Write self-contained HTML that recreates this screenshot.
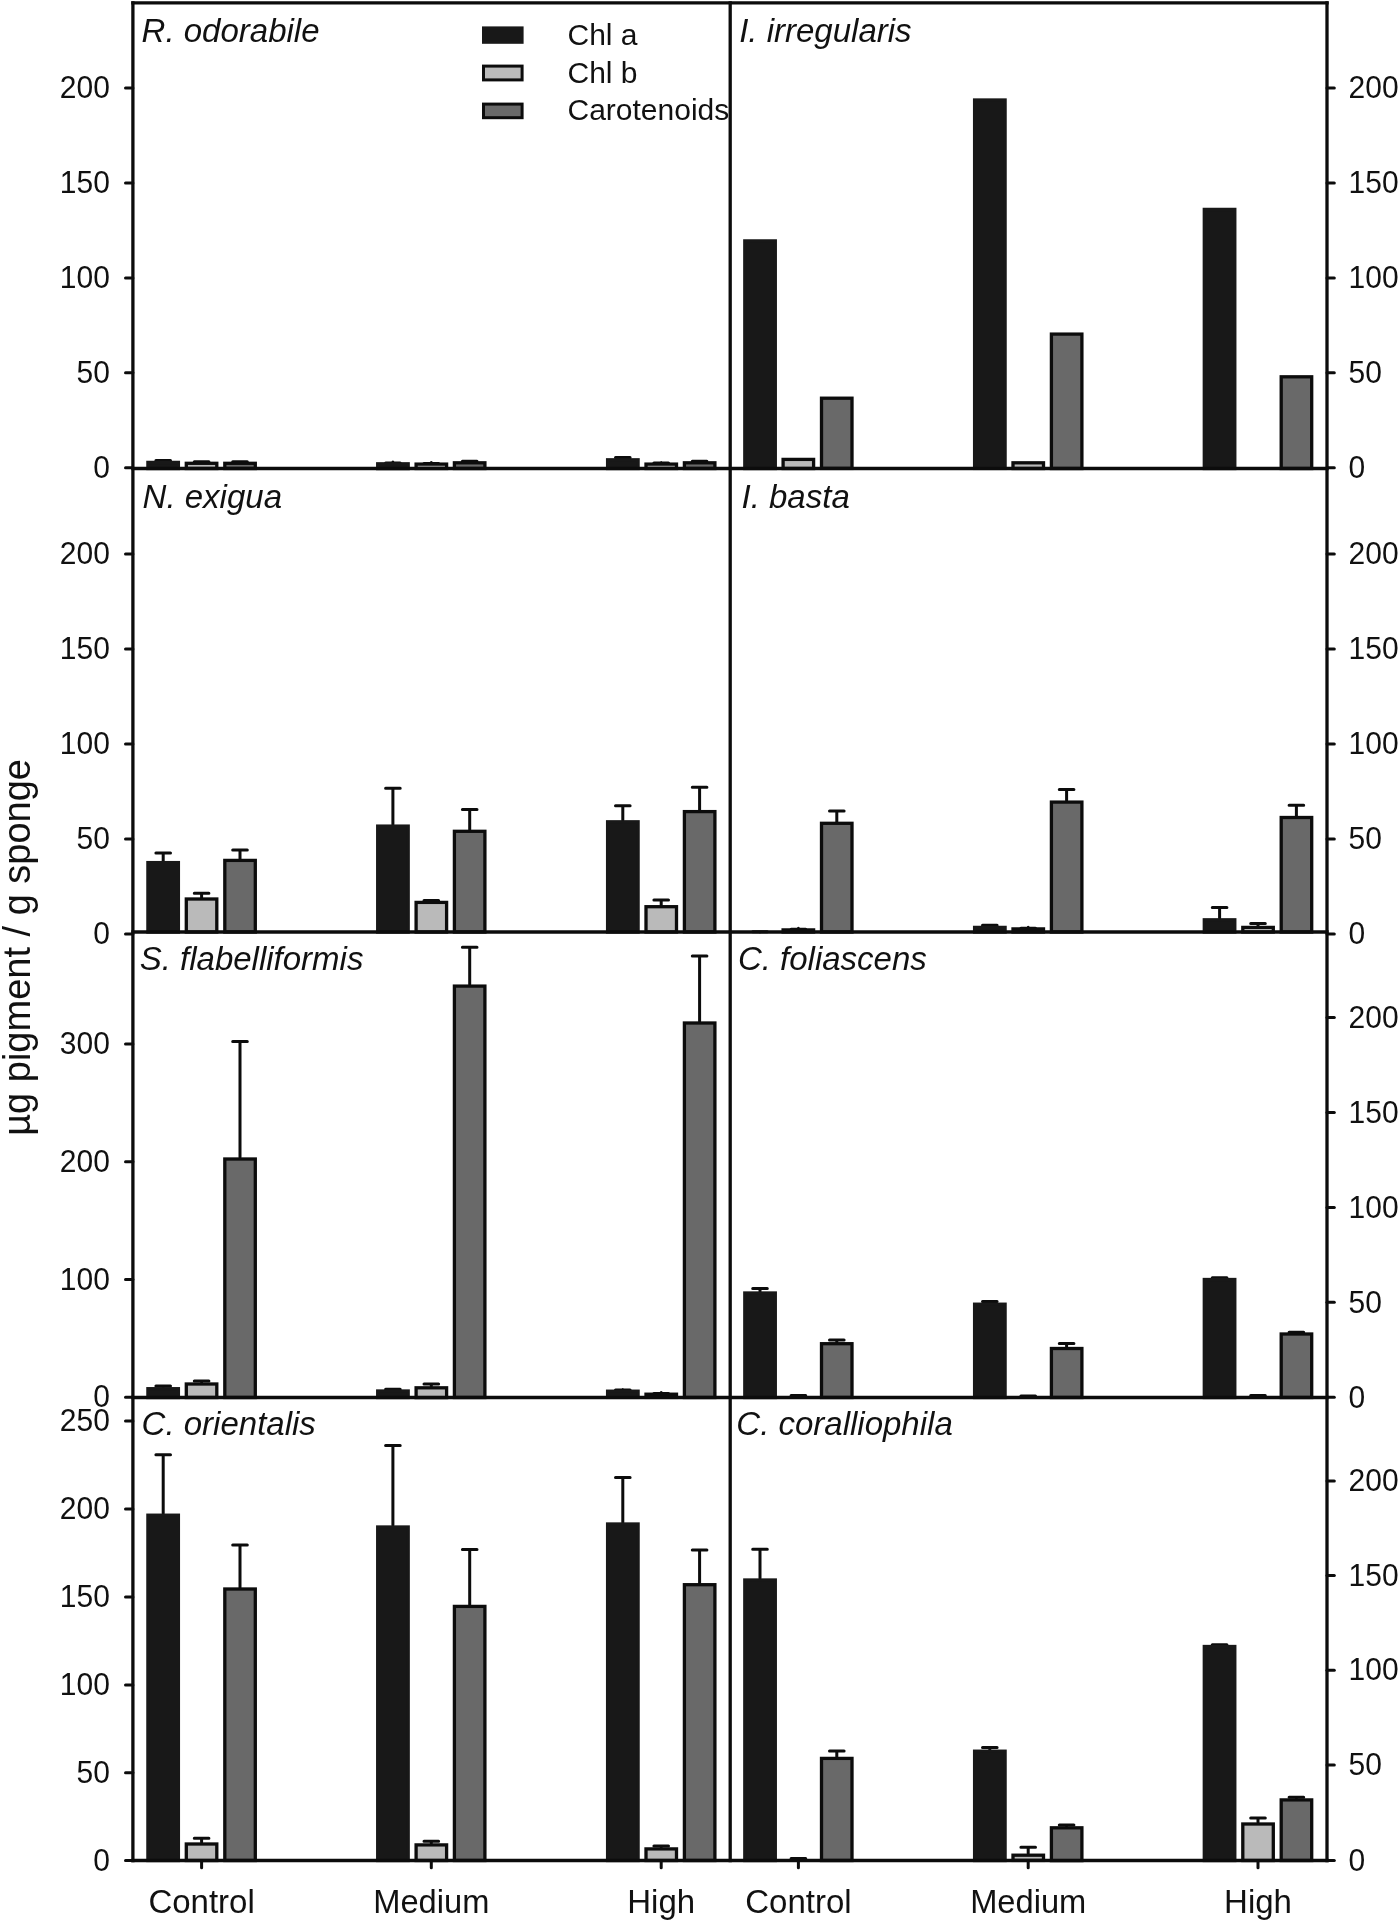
<!DOCTYPE html>
<html><head><meta charset="utf-8"><title>Pigment chart</title>
<style>
html,body{margin:0;padding:0;background:#fff;}
body{width:1400px;height:1922px;overflow:hidden;font-family:"Liberation Sans",sans-serif;}
svg{display:block;filter:grayscale(1);}
</style></head><body>
<svg width="1400" height="1922" viewBox="0 0 1400 1922">
<rect width="1400" height="1922" fill="#fff"/>
<path d="M163.2 460.8V460.5M155.9 460.5H170.5" stroke="#0c0c0c" stroke-width="3.0" stroke-linecap="round" fill="none"/>
<rect x="147.9" y="462.4" width="30.5" height="6.1" fill="#181818" stroke="#181818" stroke-width="3.3" stroke-linejoin="miter"/>
<path d="M201.6 461.7V461.8M194.3 461.8H208.9" stroke="#0c0c0c" stroke-width="3.0" stroke-linecap="round" fill="none"/>
<rect x="186.3" y="463.3" width="30.5" height="5.2" fill="#bababa" stroke="#0c0c0c" stroke-width="3.3" stroke-linejoin="miter"/>
<path d="M240.0 461.7V461.8M232.7 461.8H247.3" stroke="#0c0c0c" stroke-width="3.0" stroke-linecap="round" fill="none"/>
<rect x="224.8" y="463.3" width="30.5" height="5.2" fill="#696969" stroke="#0c0c0c" stroke-width="3.3" stroke-linejoin="miter"/>
<path d="M392.9 462.1V463.1M385.6 463.1H400.2" stroke="#0c0c0c" stroke-width="3.0" stroke-linecap="round" fill="none"/>
<rect x="377.7" y="463.8" width="30.5" height="4.8" fill="#181818" stroke="#181818" stroke-width="3.3" stroke-linejoin="miter"/>
<path d="M431.3 462.5V463.5M424.0 463.5H438.6" stroke="#0c0c0c" stroke-width="3.0" stroke-linecap="round" fill="none"/>
<rect x="416.1" y="464.1" width="30.5" height="4.4" fill="#bababa" stroke="#0c0c0c" stroke-width="3.3" stroke-linejoin="miter"/>
<path d="M469.7 461.2V461.3M462.4 461.3H477.0" stroke="#0c0c0c" stroke-width="3.0" stroke-linecap="round" fill="none"/>
<rect x="454.4" y="462.8" width="30.5" height="5.7" fill="#696969" stroke="#0c0c0c" stroke-width="3.3" stroke-linejoin="miter"/>
<path d="M622.8 458.2V457.5M615.5 457.5H630.1" stroke="#0c0c0c" stroke-width="3.0" stroke-linecap="round" fill="none"/>
<rect x="607.6" y="459.8" width="30.5" height="8.7" fill="#181818" stroke="#181818" stroke-width="3.3" stroke-linejoin="miter"/>
<path d="M661.2 462.5V463.1M653.9 463.1H668.5" stroke="#0c0c0c" stroke-width="3.0" stroke-linecap="round" fill="none"/>
<rect x="646.0" y="464.1" width="30.5" height="4.4" fill="#bababa" stroke="#0c0c0c" stroke-width="3.3" stroke-linejoin="miter"/>
<path d="M699.6 461.2V461.3M692.3 461.3H706.9" stroke="#0c0c0c" stroke-width="3.0" stroke-linecap="round" fill="none"/>
<rect x="684.4" y="462.8" width="30.5" height="5.7" fill="#696969" stroke="#0c0c0c" stroke-width="3.3" stroke-linejoin="miter"/>
<rect x="744.8" y="240.9" width="30.5" height="227.6" fill="#181818" stroke="#181818" stroke-width="3.3" stroke-linejoin="miter"/>
<rect x="783.1" y="459.4" width="30.5" height="9.1" fill="#bababa" stroke="#0c0c0c" stroke-width="3.3" stroke-linejoin="miter"/>
<rect x="821.5" y="398.2" width="30.5" height="70.2" fill="#696969" stroke="#0c0c0c" stroke-width="3.3" stroke-linejoin="miter"/>
<rect x="974.6" y="100.0" width="30.5" height="368.4" fill="#181818" stroke="#181818" stroke-width="3.3" stroke-linejoin="miter"/>
<rect x="1013.0" y="462.8" width="30.5" height="5.7" fill="#bababa" stroke="#0c0c0c" stroke-width="3.3" stroke-linejoin="miter"/>
<rect x="1051.4" y="334.1" width="30.5" height="134.4" fill="#696969" stroke="#0c0c0c" stroke-width="3.3" stroke-linejoin="miter"/>
<rect x="1204.3" y="209.4" width="30.5" height="259.1" fill="#181818" stroke="#181818" stroke-width="3.3" stroke-linejoin="miter"/>
<rect x="1281.2" y="376.8" width="30.5" height="91.7" fill="#696969" stroke="#0c0c0c" stroke-width="3.3" stroke-linejoin="miter"/>
<path d="M163.2 861.0V852.9M155.9 852.9H170.5" stroke="#0c0c0c" stroke-width="3.0" stroke-linecap="round" fill="none"/>
<rect x="147.9" y="862.6" width="30.5" height="69.4" fill="#181818" stroke="#181818" stroke-width="3.3" stroke-linejoin="miter"/>
<path d="M201.6 897.4V893.2M194.3 893.2H208.9" stroke="#0c0c0c" stroke-width="3.0" stroke-linecap="round" fill="none"/>
<rect x="186.3" y="899.0" width="30.5" height="33.0" fill="#bababa" stroke="#0c0c0c" stroke-width="3.3" stroke-linejoin="miter"/>
<path d="M240.0 858.8V849.9M232.7 849.9H247.3" stroke="#0c0c0c" stroke-width="3.0" stroke-linecap="round" fill="none"/>
<rect x="224.8" y="860.4" width="30.5" height="71.6" fill="#696969" stroke="#0c0c0c" stroke-width="3.3" stroke-linejoin="miter"/>
<path d="M392.9 824.5V788.2M385.6 788.2H400.2" stroke="#0c0c0c" stroke-width="3.0" stroke-linecap="round" fill="none"/>
<rect x="377.7" y="826.1" width="30.5" height="105.9" fill="#181818" stroke="#181818" stroke-width="3.3" stroke-linejoin="miter"/>
<path d="M431.3 900.8V900.5M424.0 900.5H438.6" stroke="#0c0c0c" stroke-width="3.0" stroke-linecap="round" fill="none"/>
<rect x="416.1" y="902.4" width="30.5" height="29.6" fill="#bababa" stroke="#0c0c0c" stroke-width="3.3" stroke-linejoin="miter"/>
<path d="M469.7 829.7V809.6M462.4 809.6H477.0" stroke="#0c0c0c" stroke-width="3.0" stroke-linecap="round" fill="none"/>
<rect x="454.4" y="831.3" width="30.5" height="100.7" fill="#696969" stroke="#0c0c0c" stroke-width="3.3" stroke-linejoin="miter"/>
<path d="M622.8 820.2V805.8M615.5 805.8H630.1" stroke="#0c0c0c" stroke-width="3.0" stroke-linecap="round" fill="none"/>
<rect x="607.6" y="821.8" width="30.5" height="110.2" fill="#181818" stroke="#181818" stroke-width="3.3" stroke-linejoin="miter"/>
<path d="M661.2 905.1V900.1M653.9 900.1H668.5" stroke="#0c0c0c" stroke-width="3.0" stroke-linecap="round" fill="none"/>
<rect x="646.0" y="906.7" width="30.5" height="25.3" fill="#bababa" stroke="#0c0c0c" stroke-width="3.3" stroke-linejoin="miter"/>
<path d="M699.6 810.0V787.3M692.3 787.3H706.9" stroke="#0c0c0c" stroke-width="3.0" stroke-linecap="round" fill="none"/>
<rect x="684.4" y="811.6" width="30.5" height="120.4" fill="#696969" stroke="#0c0c0c" stroke-width="3.3" stroke-linejoin="miter"/>
<path d="M760.0 932.0V931.8M752.7 931.8H767.3" stroke="#0c0c0c" stroke-width="3.0" stroke-linecap="round" fill="none"/>
<path d="M798.4 928.3V929.2M791.1 929.2H805.7" stroke="#0c0c0c" stroke-width="3.0" stroke-linecap="round" fill="none"/>
<rect x="783.1" y="929.9" width="30.5" height="2.1" fill="#bababa" stroke="#0c0c0c" stroke-width="3.3" stroke-linejoin="miter"/>
<path d="M836.8 821.7V811.1M829.5 811.1H844.1" stroke="#0c0c0c" stroke-width="3.0" stroke-linecap="round" fill="none"/>
<rect x="821.5" y="823.3" width="30.5" height="108.7" fill="#696969" stroke="#0c0c0c" stroke-width="3.3" stroke-linejoin="miter"/>
<path d="M989.8 925.8V925.2M982.5 925.2H997.1" stroke="#0c0c0c" stroke-width="3.0" stroke-linecap="round" fill="none"/>
<rect x="974.6" y="927.4" width="30.5" height="4.6" fill="#181818" stroke="#181818" stroke-width="3.3" stroke-linejoin="miter"/>
<path d="M1028.2 927.3V928.2M1020.9 928.2H1035.5" stroke="#0c0c0c" stroke-width="3.0" stroke-linecap="round" fill="none"/>
<rect x="1013.0" y="928.9" width="30.5" height="3.1" fill="#bababa" stroke="#0c0c0c" stroke-width="3.3" stroke-linejoin="miter"/>
<path d="M1066.6 800.5V789.4M1059.3 789.4H1073.9" stroke="#0c0c0c" stroke-width="3.0" stroke-linecap="round" fill="none"/>
<rect x="1051.4" y="802.1" width="30.5" height="129.9" fill="#696969" stroke="#0c0c0c" stroke-width="3.3" stroke-linejoin="miter"/>
<path d="M1219.6 918.2V907.5M1212.3 907.5H1226.9" stroke="#0c0c0c" stroke-width="3.0" stroke-linecap="round" fill="none"/>
<rect x="1204.3" y="919.8" width="30.5" height="12.2" fill="#181818" stroke="#181818" stroke-width="3.3" stroke-linejoin="miter"/>
<path d="M1258.0 925.8V923.4M1250.7 923.4H1265.3" stroke="#0c0c0c" stroke-width="3.0" stroke-linecap="round" fill="none"/>
<rect x="1242.8" y="927.4" width="30.5" height="4.6" fill="#bababa" stroke="#0c0c0c" stroke-width="3.3" stroke-linejoin="miter"/>
<path d="M1296.4 815.9V805.3M1289.1 805.3H1303.7" stroke="#0c0c0c" stroke-width="3.0" stroke-linecap="round" fill="none"/>
<rect x="1281.2" y="817.5" width="30.5" height="114.5" fill="#696969" stroke="#0c0c0c" stroke-width="3.3" stroke-linejoin="miter"/>
<path d="M163.2 1387.0V1385.9M155.9 1385.9H170.5" stroke="#0c0c0c" stroke-width="3.0" stroke-linecap="round" fill="none"/>
<rect x="147.9" y="1388.7" width="30.5" height="8.8" fill="#181818" stroke="#181818" stroke-width="3.3" stroke-linejoin="miter"/>
<path d="M201.6 1382.3V1381.1M194.3 1381.1H208.9" stroke="#0c0c0c" stroke-width="3.0" stroke-linecap="round" fill="none"/>
<rect x="186.3" y="1384.0" width="30.5" height="13.5" fill="#bababa" stroke="#0c0c0c" stroke-width="3.3" stroke-linejoin="miter"/>
<path d="M240.0 1157.3V1041.6M232.7 1041.6H247.3" stroke="#0c0c0c" stroke-width="3.0" stroke-linecap="round" fill="none"/>
<rect x="224.8" y="1159.0" width="30.5" height="238.5" fill="#696969" stroke="#0c0c0c" stroke-width="3.3" stroke-linejoin="miter"/>
<path d="M392.9 1389.3V1389.2M385.6 1389.2H400.2" stroke="#0c0c0c" stroke-width="3.0" stroke-linecap="round" fill="none"/>
<rect x="377.7" y="1391.0" width="30.5" height="6.5" fill="#181818" stroke="#181818" stroke-width="3.3" stroke-linejoin="miter"/>
<path d="M431.3 1386.1V1384.0M424.0 1384.0H438.6" stroke="#0c0c0c" stroke-width="3.0" stroke-linecap="round" fill="none"/>
<rect x="416.1" y="1387.8" width="30.5" height="9.8" fill="#bababa" stroke="#0c0c0c" stroke-width="3.3" stroke-linejoin="miter"/>
<path d="M469.7 984.5V947.3M462.4 947.3H477.0" stroke="#0c0c0c" stroke-width="3.0" stroke-linecap="round" fill="none"/>
<rect x="454.4" y="986.1" width="30.5" height="411.4" fill="#696969" stroke="#0c0c0c" stroke-width="3.3" stroke-linejoin="miter"/>
<path d="M622.8 1389.6V1390.1M615.5 1390.1H630.1" stroke="#0c0c0c" stroke-width="3.0" stroke-linecap="round" fill="none"/>
<rect x="607.6" y="1391.2" width="30.5" height="6.2" fill="#181818" stroke="#181818" stroke-width="3.3" stroke-linejoin="miter"/>
<path d="M661.2 1392.6V1393.6M653.9 1393.6H668.5" stroke="#0c0c0c" stroke-width="3.0" stroke-linecap="round" fill="none"/>
<rect x="646.0" y="1394.2" width="30.5" height="3.2" fill="#bababa" stroke="#0c0c0c" stroke-width="3.3" stroke-linejoin="miter"/>
<path d="M699.6 1021.4V955.9M692.3 955.9H706.9" stroke="#0c0c0c" stroke-width="3.0" stroke-linecap="round" fill="none"/>
<rect x="684.4" y="1023.0" width="30.5" height="374.5" fill="#696969" stroke="#0c0c0c" stroke-width="3.3" stroke-linejoin="miter"/>
<path d="M760.0 1291.4V1288.4M752.7 1288.4H767.3" stroke="#0c0c0c" stroke-width="3.0" stroke-linecap="round" fill="none"/>
<rect x="744.8" y="1293.0" width="30.5" height="104.5" fill="#181818" stroke="#181818" stroke-width="3.3" stroke-linejoin="miter"/>
<path d="M798.4 1397.5V1395.5M791.1 1395.5H805.7" stroke="#0c0c0c" stroke-width="3.0" stroke-linecap="round" fill="none"/>
<path d="M836.8 1342.0V1340.0M829.5 1340.0H844.1" stroke="#0c0c0c" stroke-width="3.0" stroke-linecap="round" fill="none"/>
<rect x="821.5" y="1343.7" width="30.5" height="53.8" fill="#696969" stroke="#0c0c0c" stroke-width="3.3" stroke-linejoin="miter"/>
<path d="M989.8 1302.5V1301.5M982.5 1301.5H997.1" stroke="#0c0c0c" stroke-width="3.0" stroke-linecap="round" fill="none"/>
<rect x="974.6" y="1304.2" width="30.5" height="93.3" fill="#181818" stroke="#181818" stroke-width="3.3" stroke-linejoin="miter"/>
<path d="M1028.2 1397.5V1396.0M1020.9 1396.0H1035.5" stroke="#0c0c0c" stroke-width="3.0" stroke-linecap="round" fill="none"/>
<path d="M1066.6 1346.8V1343.4M1059.3 1343.4H1073.9" stroke="#0c0c0c" stroke-width="3.0" stroke-linecap="round" fill="none"/>
<rect x="1051.4" y="1348.5" width="30.5" height="49.0" fill="#696969" stroke="#0c0c0c" stroke-width="3.3" stroke-linejoin="miter"/>
<path d="M1219.6 1277.9V1277.8M1212.3 1277.8H1226.9" stroke="#0c0c0c" stroke-width="3.0" stroke-linecap="round" fill="none"/>
<rect x="1204.3" y="1279.5" width="30.5" height="118.0" fill="#181818" stroke="#181818" stroke-width="3.3" stroke-linejoin="miter"/>
<path d="M1258.0 1397.5V1395.5M1250.7 1395.5H1265.3" stroke="#0c0c0c" stroke-width="3.0" stroke-linecap="round" fill="none"/>
<path d="M1296.4 1332.4V1332.3M1289.1 1332.3H1303.7" stroke="#0c0c0c" stroke-width="3.0" stroke-linecap="round" fill="none"/>
<rect x="1281.2" y="1334.0" width="30.5" height="63.5" fill="#696969" stroke="#0c0c0c" stroke-width="3.3" stroke-linejoin="miter"/>
<path d="M163.2 1513.5V1454.8M155.9 1454.8H170.5" stroke="#0c0c0c" stroke-width="3.0" stroke-linecap="round" fill="none"/>
<rect x="147.9" y="1515.2" width="30.5" height="345.3" fill="#181818" stroke="#181818" stroke-width="3.3" stroke-linejoin="miter"/>
<path d="M201.6 1842.3V1838.2M194.3 1838.2H208.9" stroke="#0c0c0c" stroke-width="3.0" stroke-linecap="round" fill="none"/>
<rect x="186.3" y="1844.0" width="30.5" height="16.5" fill="#bababa" stroke="#0c0c0c" stroke-width="3.3" stroke-linejoin="miter"/>
<path d="M240.0 1587.4V1545.0M232.7 1545.0H247.3" stroke="#0c0c0c" stroke-width="3.0" stroke-linecap="round" fill="none"/>
<rect x="224.8" y="1589.0" width="30.5" height="271.5" fill="#696969" stroke="#0c0c0c" stroke-width="3.3" stroke-linejoin="miter"/>
<path d="M392.9 1525.3V1445.4M385.6 1445.4H400.2" stroke="#0c0c0c" stroke-width="3.0" stroke-linecap="round" fill="none"/>
<rect x="377.7" y="1527.0" width="30.5" height="333.5" fill="#181818" stroke="#181818" stroke-width="3.3" stroke-linejoin="miter"/>
<path d="M431.3 1843.2V1841.2M424.0 1841.2H438.6" stroke="#0c0c0c" stroke-width="3.0" stroke-linecap="round" fill="none"/>
<rect x="416.1" y="1844.9" width="30.5" height="15.6" fill="#bababa" stroke="#0c0c0c" stroke-width="3.3" stroke-linejoin="miter"/>
<path d="M469.7 1604.7V1549.4M462.4 1549.4H477.0" stroke="#0c0c0c" stroke-width="3.0" stroke-linecap="round" fill="none"/>
<rect x="454.4" y="1606.4" width="30.5" height="254.1" fill="#696969" stroke="#0c0c0c" stroke-width="3.3" stroke-linejoin="miter"/>
<path d="M622.8 1522.4V1477.4M615.5 1477.4H630.1" stroke="#0c0c0c" stroke-width="3.0" stroke-linecap="round" fill="none"/>
<rect x="607.6" y="1524.0" width="30.5" height="336.5" fill="#181818" stroke="#181818" stroke-width="3.3" stroke-linejoin="miter"/>
<path d="M661.2 1847.2V1846.1M653.9 1846.1H668.5" stroke="#0c0c0c" stroke-width="3.0" stroke-linecap="round" fill="none"/>
<rect x="646.0" y="1848.9" width="30.5" height="11.6" fill="#bababa" stroke="#0c0c0c" stroke-width="3.3" stroke-linejoin="miter"/>
<path d="M699.6 1583.0V1549.9M692.3 1549.9H706.9" stroke="#0c0c0c" stroke-width="3.0" stroke-linecap="round" fill="none"/>
<rect x="684.4" y="1584.7" width="30.5" height="275.8" fill="#696969" stroke="#0c0c0c" stroke-width="3.3" stroke-linejoin="miter"/>
<path d="M760.0 1578.3V1549.3M752.7 1549.3H767.3" stroke="#0c0c0c" stroke-width="3.0" stroke-linecap="round" fill="none"/>
<rect x="744.8" y="1580.0" width="30.5" height="280.5" fill="#181818" stroke="#181818" stroke-width="3.3" stroke-linejoin="miter"/>
<path d="M798.4 1860.5V1858.4M791.1 1858.4H805.7" stroke="#0c0c0c" stroke-width="3.0" stroke-linecap="round" fill="none"/>
<path d="M836.8 1756.7V1750.9M829.5 1750.9H844.1" stroke="#0c0c0c" stroke-width="3.0" stroke-linecap="round" fill="none"/>
<rect x="821.5" y="1758.4" width="30.5" height="102.1" fill="#696969" stroke="#0c0c0c" stroke-width="3.3" stroke-linejoin="miter"/>
<path d="M989.8 1749.5V1747.5M982.5 1747.5H997.1" stroke="#0c0c0c" stroke-width="3.0" stroke-linecap="round" fill="none"/>
<rect x="974.6" y="1751.2" width="30.5" height="109.3" fill="#181818" stroke="#181818" stroke-width="3.3" stroke-linejoin="miter"/>
<path d="M1028.2 1853.6V1847.3M1020.9 1847.3H1035.5" stroke="#0c0c0c" stroke-width="3.0" stroke-linecap="round" fill="none"/>
<rect x="1013.0" y="1855.2" width="30.5" height="5.2" fill="#bababa" stroke="#0c0c0c" stroke-width="3.3" stroke-linejoin="miter"/>
<path d="M1066.6 1826.1V1825.1M1059.3 1825.1H1073.9" stroke="#0c0c0c" stroke-width="3.0" stroke-linecap="round" fill="none"/>
<rect x="1051.4" y="1827.8" width="30.5" height="32.8" fill="#696969" stroke="#0c0c0c" stroke-width="3.3" stroke-linejoin="miter"/>
<path d="M1219.6 1644.8V1644.8M1212.3 1644.8H1226.9" stroke="#0c0c0c" stroke-width="3.0" stroke-linecap="round" fill="none"/>
<rect x="1204.3" y="1646.5" width="30.5" height="214.0" fill="#181818" stroke="#181818" stroke-width="3.3" stroke-linejoin="miter"/>
<path d="M1258.0 1822.3V1817.9M1250.7 1817.9H1265.3" stroke="#0c0c0c" stroke-width="3.0" stroke-linecap="round" fill="none"/>
<rect x="1242.8" y="1824.0" width="30.5" height="36.5" fill="#bababa" stroke="#0c0c0c" stroke-width="3.3" stroke-linejoin="miter"/>
<path d="M1296.4 1798.2V1797.2M1289.1 1797.2H1303.7" stroke="#0c0c0c" stroke-width="3.0" stroke-linecap="round" fill="none"/>
<rect x="1281.2" y="1799.9" width="30.5" height="60.6" fill="#696969" stroke="#0c0c0c" stroke-width="3.3" stroke-linejoin="miter"/>
<g stroke="#0c0c0c" stroke-width="3.3" fill="none" stroke-linecap="square">
<path d="M132.9 2.9H1327.0"/>
<path d="M132.9 2.9V1860.5"/>
<path d="M730.2 2.9V1860.5"/>
<path d="M1327.0 2.9V1860.5"/>
<path d="M132.9 468.5H1327.0"/>
<path d="M132.9 932.0H1327.0"/>
<path d="M132.9 1397.5H1327.0"/>
<path d="M132.9 1860.5H1327.0"/>
</g>
<g stroke="#0c0c0c" stroke-width="3.0" stroke-linecap="round">
<path d="M125.5 88.0H132.9"/>
<path d="M125.5 182.95H132.9"/>
<path d="M125.5 277.9H132.9"/>
<path d="M125.5 372.85H132.9"/>
<path d="M125.5 467.8H132.9"/>
<path d="M125.5 554.1H132.9"/>
<path d="M125.5 649.0H132.9"/>
<path d="M125.5 744.0H132.9"/>
<path d="M125.5 838.9H132.9"/>
<path d="M125.5 933.9H132.9"/>
<path d="M125.5 1044.0H132.9"/>
<path d="M125.5 1161.8H132.9"/>
<path d="M125.5 1279.5H132.9"/>
<path d="M125.5 1397.2H132.9"/>
<path d="M125.5 1421.1H132.9"/>
<path d="M125.5 1509.1H132.9"/>
<path d="M125.5 1597.1H132.9"/>
<path d="M125.5 1685.0H132.9"/>
<path d="M125.5 1772.8H132.9"/>
<path d="M125.5 1860.5H132.9"/>
<path d="M1327.0 88.0H1334.3"/>
<path d="M1327.0 182.95H1334.3"/>
<path d="M1327.0 277.9H1334.3"/>
<path d="M1327.0 372.85H1334.3"/>
<path d="M1327.0 467.8H1334.3"/>
<path d="M1327.0 554.1H1334.3"/>
<path d="M1327.0 649.0H1334.3"/>
<path d="M1327.0 744.0H1334.3"/>
<path d="M1327.0 838.9H1334.3"/>
<path d="M1327.0 933.9H1334.3"/>
<path d="M1327.0 1017.5H1334.3"/>
<path d="M1327.0 1112.4H1334.3"/>
<path d="M1327.0 1207.4H1334.3"/>
<path d="M1327.0 1302.3H1334.3"/>
<path d="M1327.0 1397.3H1334.3"/>
<path d="M1327.0 1480.9H1334.3"/>
<path d="M1327.0 1575.6H1334.3"/>
<path d="M1327.0 1670.2H1334.3"/>
<path d="M1327.0 1764.9H1334.3"/>
<path d="M1327.0 1860.6H1334.3"/>
<path d="M201.6 1860.5V1867.8"/>
<path d="M431.3 1860.5V1867.8"/>
<path d="M661.2 1860.5V1867.8"/>
<path d="M798.4 1860.5V1867.8"/>
<path d="M1028.2 1860.5V1867.8"/>
<path d="M1258.0 1860.5V1867.8"/>
</g>
<g font-family="Liberation Sans, sans-serif" font-size="30" fill="#111">
<text transform="translate(109.9 98.2) scale(1 1.045)" text-anchor="end">200</text>
<text transform="translate(109.9 193.1) scale(1 1.045)" text-anchor="end">150</text>
<text transform="translate(109.9 288.1) scale(1 1.045)" text-anchor="end">100</text>
<text transform="translate(109.9 383.1) scale(1 1.045)" text-anchor="end">50</text>
<text transform="translate(109.9 478.0) scale(1 1.045)" text-anchor="end">0</text>
<text transform="translate(109.9 564.3) scale(1 1.045)" text-anchor="end">200</text>
<text transform="translate(109.9 659.2) scale(1 1.045)" text-anchor="end">150</text>
<text transform="translate(109.9 754.2) scale(1 1.045)" text-anchor="end">100</text>
<text transform="translate(109.9 849.1) scale(1 1.045)" text-anchor="end">50</text>
<text transform="translate(109.9 944.1) scale(1 1.045)" text-anchor="end">0</text>
<text transform="translate(109.9 1054.2) scale(1 1.045)" text-anchor="end">300</text>
<text transform="translate(109.9 1172.0) scale(1 1.045)" text-anchor="end">200</text>
<text transform="translate(109.9 1289.7) scale(1 1.045)" text-anchor="end">100</text>
<text transform="translate(109.9 1407.4) scale(1 1.045)" text-anchor="end">0</text>
<text transform="translate(109.9 1431.3) scale(1 1.045)" text-anchor="end">250</text>
<text transform="translate(109.9 1519.3) scale(1 1.045)" text-anchor="end">200</text>
<text transform="translate(109.9 1607.3) scale(1 1.045)" text-anchor="end">150</text>
<text transform="translate(109.9 1695.2) scale(1 1.045)" text-anchor="end">100</text>
<text transform="translate(109.9 1783.0) scale(1 1.045)" text-anchor="end">50</text>
<text transform="translate(109.9 1870.7) scale(1 1.045)" text-anchor="end">0</text>
<text transform="translate(1348.6 98.2) scale(1 1.045)">200</text>
<text transform="translate(1348.6 193.1) scale(1 1.045)">150</text>
<text transform="translate(1348.6 288.1) scale(1 1.045)">100</text>
<text transform="translate(1348.6 383.1) scale(1 1.045)">50</text>
<text transform="translate(1348.6 478.0) scale(1 1.045)">0</text>
<text transform="translate(1348.6 564.3) scale(1 1.045)">200</text>
<text transform="translate(1348.6 659.2) scale(1 1.045)">150</text>
<text transform="translate(1348.6 754.2) scale(1 1.045)">100</text>
<text transform="translate(1348.6 849.1) scale(1 1.045)">50</text>
<text transform="translate(1348.6 944.1) scale(1 1.045)">0</text>
<text transform="translate(1348.6 1027.7) scale(1 1.045)">200</text>
<text transform="translate(1348.6 1122.6) scale(1 1.045)">150</text>
<text transform="translate(1348.6 1217.6) scale(1 1.045)">100</text>
<text transform="translate(1348.6 1312.5) scale(1 1.045)">50</text>
<text transform="translate(1348.6 1407.5) scale(1 1.045)">0</text>
<text transform="translate(1348.6 1491.1) scale(1 1.045)">200</text>
<text transform="translate(1348.6 1585.8) scale(1 1.045)">150</text>
<text transform="translate(1348.6 1680.4) scale(1 1.045)">100</text>
<text transform="translate(1348.6 1775.1) scale(1 1.045)">50</text>
<text transform="translate(1348.6 1870.8) scale(1 1.045)">0</text>
<text x="567.5" y="45.4">Chl a</text>
<text x="567.5" y="82.5">Chl b</text>
<text x="567.5" y="120.4">Carotenoids</text>
</g>
<rect x="483.5" y="27.9" width="38.6" height="14.4" fill="#181818" stroke="#181818" stroke-width="3" stroke-linejoin="miter"/>
<rect x="483.5" y="66.1" width="38.6" height="13.8" fill="#bababa" stroke="#0c0c0c" stroke-width="3" stroke-linejoin="miter"/>
<rect x="483.5" y="104.1" width="38.6" height="13.6" fill="#696969" stroke="#0c0c0c" stroke-width="3" stroke-linejoin="miter"/>
<g font-family="Liberation Sans, sans-serif" font-size="33" font-style="italic" fill="#111">
<text x="141.6" y="42.0">R. odorabile</text>
<text x="739.2" y="42.0">I. irregularis</text>
<text x="142.6" y="507.7">N. exigua</text>
<text x="741.5" y="507.7">I. basta</text>
<text x="139.7" y="970.4">S. flabelliformis</text>
<text x="737.9" y="970.4">C. foliascens</text>
<text x="141.6" y="1435.0">C. orientalis</text>
<text x="736.3" y="1435.0">C. coralliophila</text>
</g>
<g font-family="Liberation Sans, sans-serif" font-size="33" fill="#111" text-anchor="middle">
<text x="201.6" y="1913.3">Control</text>
<text x="431.3" y="1913.3" font-size="32.65">Medium</text>
<text x="661.2" y="1913.3">High</text>
<text x="798.4" y="1913.3">Control</text>
<text x="1028.2" y="1913.3" font-size="32.65">Medium</text>
<text x="1258.0" y="1913.3">High</text>
</g>
<text transform="translate(30.0 947.4) rotate(-90)" font-family="Liberation Sans, sans-serif" font-size="38" fill="#111" text-anchor="middle">µg pigment / g sponge</text>
</svg>
</body></html>
